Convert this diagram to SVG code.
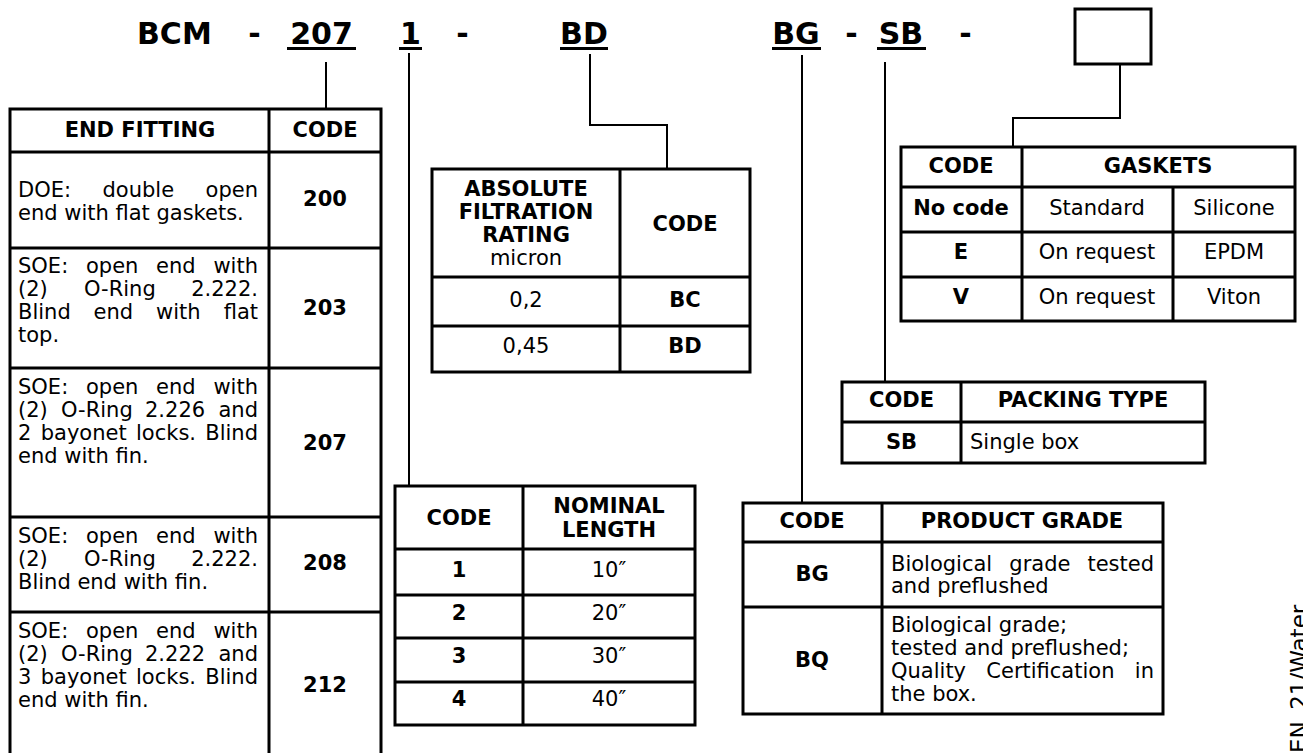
<svg xmlns="http://www.w3.org/2000/svg" width="1303" height="753" viewBox="0 0 1303 753">
<style>
text{font-family:"DejaVu Sans",Verdana,sans-serif;font-size:21px;fill:#000}
.b{font-weight:bold}
.m{text-anchor:middle}
.e{text-anchor:end}
.h{font-size:30px;font-weight:bold}
.grid{stroke:#000;stroke-width:3;fill:none;stroke-linecap:square}
.conn{stroke:#000;stroke-width:2;fill:none}
.ul{stroke:#000;stroke-width:3}
</style>
<rect width="1303" height="753" fill="#fff"/>

<g id="header">
<text class="h" x="137" y="44">BCM</text>
<text class="h m" x="254.5" y="44">-</text>
<text class="h m" x="321.5" y="44">207</text>
<text class="h m" x="410.5" y="44">1</text>
<text class="h m" x="462.5" y="44">-</text>
<text class="h m" x="584" y="44">BD</text>
<text class="h m" x="796" y="44">BG</text>
<text class="h m" x="851.5" y="44">-</text>
<text class="h m" x="901" y="44">SB</text>
<text class="h m" x="965.5" y="44">-</text>
<line class="ul" x1="287" y1="48.5" x2="356" y2="48.5"/>
<line class="ul" x1="399" y1="48.5" x2="422" y2="48.5"/>
<line class="ul" x1="560" y1="48.5" x2="608" y2="48.5"/>
<line class="ul" x1="772" y1="48.5" x2="821" y2="48.5"/>
<line class="ul" x1="877" y1="48.5" x2="926" y2="48.5"/>
</g>

<g id="gasket-code-box">
<rect class="grid" x="1075" y="9" width="76" height="55"/>
</g>

<g id="connectors">
<path class="conn" d="M326,62 V108"/>
<path class="conn" d="M409,53 V486"/>
<path class="conn" d="M590,54 V125 H667 V169"/>
<path class="conn" d="M802,55 V503"/>
<path class="conn" d="M885,62 V382"/>
<path class="conn" d="M1120,64 V118 H1013 V147"/>
</g>

<g id="tbl-end-fitting">
<path class="grid" d="M10,760 V109 H381 V760 M269,109 V760 M10,152 H381 M10,248 H381 M10,368 H381 M10,517 H381 M10,612 H381"/>
<text class="b m" x="140" y="137">END FITTING</text>
<text class="b m" x="325" y="137">CODE</text>

<text y="197"><tspan x="18">DOE:</tspan><tspan x="102.5">double</tspan><tspan x="258" class="e">open</tspan></text>
<text x="18" y="220">end with flat gaskets.</text>
<text class="b m" x="325" y="206">200</text>

<text y="273"><tspan x="18">SOE:</tspan><tspan x="86">open</tspan><tspan x="156">end</tspan><tspan x="258" class="e">with</tspan></text>
<text y="296"><tspan x="18">(2)</tspan><tspan x="84">O-Ring</tspan><tspan x="258" class="e">2.222.</tspan></text>
<text y="319"><tspan x="18">Blind</tspan><tspan x="93.6">end</tspan><tspan x="156.1">with</tspan><tspan x="258" class="e">flat</tspan></text>
<text x="18" y="342">top.</text>
<text class="b m" x="325" y="315">203</text>

<text y="394"><tspan x="18">SOE:</tspan><tspan x="86">open</tspan><tspan x="156">end</tspan><tspan x="258" class="e">with</tspan></text>
<text y="417"><tspan x="18">(2)</tspan><tspan x="61">O-Ring</tspan><tspan x="145">2.226</tspan><tspan x="258" class="e">and</tspan></text>
<text y="440"><tspan x="18">2</tspan><tspan x="40.7">bayonet</tspan><tspan x="136">locks.</tspan><tspan x="258" class="e">Blind</tspan></text>
<text x="18" y="463">end with fin.</text>
<text class="b m" x="325" y="450">207</text>

<text y="543"><tspan x="18">SOE:</tspan><tspan x="86">open</tspan><tspan x="156">end</tspan><tspan x="258" class="e">with</tspan></text>
<text y="566"><tspan x="18">(2)</tspan><tspan x="84">O-Ring</tspan><tspan x="258" class="e">2.222.</tspan></text>
<text x="18" y="589">Blind end with fin.</text>
<text class="b m" x="325" y="570">208</text>

<text y="638"><tspan x="18">SOE:</tspan><tspan x="86">open</tspan><tspan x="156">end</tspan><tspan x="258" class="e">with</tspan></text>
<text y="661"><tspan x="18">(2)</tspan><tspan x="61">O-Ring</tspan><tspan x="145">2.222</tspan><tspan x="258" class="e">and</tspan></text>
<text y="684"><tspan x="18">3</tspan><tspan x="40.7">bayonet</tspan><tspan x="136">locks.</tspan><tspan x="258" class="e">Blind</tspan></text>
<text x="18" y="707">end with fin.</text>
<text class="b m" x="325" y="692">212</text>
</g>

<g id="tbl-filtration">
<path class="grid" d="M432,169 H750 V372 H432 Z M620,169 V372 M432,277 H750 M432,326 H750"/>
<text class="b m" x="526" y="196">ABSOLUTE</text>
<text class="b m" x="526" y="219">FILTRATION</text>
<text class="b m" x="526" y="242">RATING</text>
<text class="m" x="526" y="265">micron</text>
<text class="b m" x="685" y="231">CODE</text>
<text class="m" x="526" y="307">0,2</text>
<text class="b m" x="685" y="307">BC</text>
<text class="m" x="526" y="353">0,45</text>
<text class="b m" x="685" y="353">BD</text>
</g>

<g id="tbl-nominal-length">
<path class="grid" d="M395,486 H695 V725 H395 Z M523,486 V725 M395,549 H695 M395,595 H695 M395,638 H695 M395,682 H695"/>
<text class="b m" x="459" y="525">CODE</text>
<text class="b m" x="609" y="513">NOMINAL</text>
<text class="b m" x="609" y="537">LENGTH</text>
<text class="b m" x="459" y="577">1</text><text class="m" x="609" y="577">10″</text>
<text class="b m" x="459" y="620">2</text><text class="m" x="609" y="620">20″</text>
<text class="b m" x="459" y="663">3</text><text class="m" x="609" y="663">30″</text>
<text class="b m" x="459" y="706">4</text><text class="m" x="609" y="706">40″</text>
</g>

<g id="tbl-product-grade">
<path class="grid" d="M743,503 H1163 V714 H743 Z M882,503 V714 M743,542 H1163 M743,607 H1163"/>
<text class="b m" x="812" y="528">CODE</text>
<text class="b m" x="1022" y="528">PRODUCT GRADE</text>
<text class="b m" x="812" y="581">BG</text>
<text y="571"><tspan x="891">Biological</tspan><tspan x="1009.3">grade</tspan><tspan x="1154" class="e">tested</tspan></text>
<text x="891" y="593">and preflushed</text>
<text class="b m" x="812" y="667">BQ</text>
<text x="891" y="632">Biological grade;</text>
<text x="891" y="655">tested and preflushed;</text>
<text y="678"><tspan x="891">Quality</tspan><tspan x="986.3">Certification</tspan><tspan x="1154" class="e">in</tspan></text>
<text x="891" y="701">the box.</text>
</g>

<g id="tbl-gaskets">
<path class="grid" d="M901,147 H1295 V321 H901 Z M1022,147 V321 M1173,187 V321 M901,187 H1295 M901,232 H1295 M901,277 H1295"/>
<text class="b m" x="961" y="173">CODE</text>
<text class="b m" x="1158" y="173">GASKETS</text>
<text class="b m" x="961" y="215">No code</text>
<text class="m" x="1097" y="215">Standard</text>
<text class="m" x="1234" y="215">Silicone</text>
<text class="b m" x="961" y="259">E</text>
<text class="m" x="1097" y="259">On request</text>
<text class="m" x="1234" y="259">EPDM</text>
<text class="b m" x="961" y="304">V</text>
<text class="m" x="1097" y="304">On request</text>
<text class="m" x="1234" y="304">Viton</text>
</g>

<g id="tbl-packing">
<path class="grid" d="M842,382 H1205 V463 H842 Z M961,382 V463 M842,422 H1205"/>
<text class="b m" x="901.5" y="407">CODE</text>
<text class="b m" x="1083" y="407">PACKING TYPE</text>
<text class="b m" x="901.5" y="449">SB</text>
<text x="970" y="449">Single box</text>
</g>

<text transform="translate(1307,753) rotate(-90)" style="font-size:23px">EN_21/Water</text>
</svg>
